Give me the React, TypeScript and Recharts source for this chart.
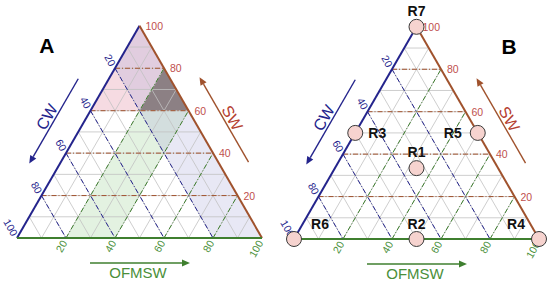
import React from 'react'
import { ScatterChart, Scatter, XAxis, YAxis } from 'recharts'

// ternary grid values
const gridSteps = [10, 20, 30, 40, 50, 60, 70, 80, 90]
const guideSteps = [20, 40, 60, 80]
const tickValues = [20, 40, 60, 80, 100]

// shaded zones of panel A, vertices as [CW, OFMSW, SW]
const swZone = [[40, 0, 60], [0, 40, 60], [0, 0, 100]]
const ofmswZone = [[80, 20, 0], [60, 40, 0], [0, 40, 60], [0, 20, 80]]
const cwZone = [[20, 80, 0], [0, 100, 0], [0, 0, 100], [20, 0, 80]]
const overlapZone = [[20, 20, 60], [0, 40, 60], [0, 20, 80]]

// mixing runs of panel B
const runNames = ['R1', 'R2', 'R3', 'R4', 'R5', 'R6', 'R7']
const runCW = [33.3, 50, 50, 0, 0, 100, 0]
const runOFMSW = [33.3, 50, 0, 100, 50, 0, 0]
const runSW = [33.4, 0, 50, 0, 50, 0, 100]
// label offsets (px) for each run
const runLabelDx = [0, 0, 22, -23, -25, 26, 0]
const runLabelDy = [-16, -15, 0, -15, 0, -15, -16]

const NAVY = '#24248c'
const BROWN = '#a0522d'
const RED = '#c0504d'
const GREEN = '#3f7f2f'
const GREEN_TXT = '#4a8f3a'
const FONT = '"Liberation Sans", Arial, Helvetica, sans-serif'

const H3 = Math.sqrt(3) / 2
const K = 2.45 // px per ternary unit
const W = 275
const HGT = 282

const plane = (cw: number, of: number, sw: number) => ({ x: of + sw / 2, y: sw * H3 })
const swLine = (v: number) => [plane(100 - v, 0, v), plane(0, 100 - v, v)]
const cwLine = (v: number) => [plane(v, 0, 100 - v), plane(v, 100 - v, 0)]
const ofLine = (v: number) => [plane(100 - v, v, 0), plane(0, v, 100 - v)]
const zonePts = (z: number[][]) => z.map(([c, o, s]) => plane(c, o, s))

const gridData = gridSteps.flatMap((v) => [...swLine(v), ...cwLine(v), ...ofLine(v)])
const swGuides = guideSteps.flatMap(swLine)
const cwGuides = guideSteps.flatMap(cwLine)
const ofGuides = guideSteps.flatMap(ofLine)

const cwTicks = tickValues.map((v) => ({ ...plane(v, 0, 100 - v), text: String(v) }))
const swTicks = tickValues.map((v) => ({ ...plane(0, 100 - v, v), text: String(v) }))
const ofTicks = tickValues.map((v) => ({ ...plane(100 - v, v, 0), text: String(v) }))

const runs = runNames.map((n, i) => ({
  ...plane(runCW[i], runOFMSW[i], runSW[i]),
  text: n,
  dx: runLabelDx[i],
  dy: runLabelDy[i],
}))

const hidden = () => <g />

const segLine = (stroke: string, width: number, dash?: string) => (p: any) => {
  const pts = p.points || []
  const out = []
  for (let i = 0; i + 1 < pts.length; i += 2) {
    out.push(
      <line
        key={i}
        x1={pts[i].x}
        y1={pts[i].y}
        x2={pts[i + 1].x}
        y2={pts[i + 1].y}
        stroke={stroke}
        strokeWidth={width}
        strokeDasharray={dash}
      />
    )
  }
  return <g>{out}</g>
}

const fillPoly = (fill: string, opacity: number) => (p: any) => (
  <polygon
    points={(p.points || []).map((q: any) => `${q.x},${q.y}`).join(' ')}
    fill={fill}
    fillOpacity={opacity}
    stroke="none"
  />
)

const arrowLine = (color: string) => (p: any) => {
  const [a, b] = p.points
  const ang = Math.atan2(b.y - a.y, b.x - a.x)
  const len = 8
  const hw = 3.5
  const bx = b.x - len * Math.cos(ang)
  const by = b.y - len * Math.sin(ang)
  const nx = -Math.sin(ang) * hw
  const ny = Math.cos(ang) * hw
  return (
    <g>
      <line x1={a.x} y1={a.y} x2={bx} y2={by} stroke={color} strokeWidth={1.4} />
      <polygon points={`${b.x},${b.y} ${bx + nx},${by + ny} ${bx - nx},${by - ny}`} fill={color} />
    </g>
  )
}

type TextOpts = {
  fill: string
  size: number
  weight?: string
  anchor?: string
  angle?: number
  dx?: number
  dy?: number
}

const textShape = (o: TextOpts) => (p: any) => {
  const { cx, cy, payload } = p
  const x = cx + (payload.dx ?? o.dx ?? 0)
  const y = cy + (payload.dy ?? o.dy ?? 0)
  return (
    <text
      x={x}
      y={y}
      fill={o.fill}
      fontSize={o.size}
      fontWeight={o.weight || 'normal'}
      fontFamily={FONT}
      textAnchor={o.anchor || 'middle'}
      dominantBaseline="central"
      transform={o.angle ? `rotate(${o.angle} ${x} ${y})` : undefined}
    >
      {payload.text}
    </text>
  )
}

const circleShape = (p: any) => (
  <circle cx={p.cx} cy={p.cy} r={7.5} fill="#f6d3cf" stroke="#3a3a3a" strokeWidth={1} />
)

type PanelProps = { left: number; bottom: number; letter: string; shaded?: boolean; showRuns?: boolean }

function Panel({ left, bottom, letter, shaded, showRuns }: PanelProps) {
  const xDomain = [-left / K, (W - left) / K]
  const yDomain = [-(HGT - bottom) / K, bottom / K]
  const common = { isAnimationActive: false, shape: hidden }

  return (
    <ScatterChart width={W} height={HGT} margin={{ top: 0, right: 0, bottom: 0, left: 0 }}>
      <XAxis type="number" dataKey="x" domain={xDomain} hide />
      <YAxis type="number" dataKey="y" domain={yDomain} hide />

      {shaded && <Scatter data={zonePts(swZone)} line={fillPoly('#e8a0b4', 0.38)} {...common} />}
      {shaded && <Scatter data={zonePts(ofmswZone)} line={fillPoly('#a8d8a2', 0.32)} {...common} />}
      {shaded && <Scatter data={zonePts(cwZone)} line={fillPoly('#a8a8d8', 0.26)} {...common} />}
      {shaded && <Scatter data={zonePts(overlapZone)} line={fillPoly('#7a6d71', 0.8)} {...common} />}

      <Scatter data={gridData} line={segLine('#c2c2c2', 0.8)} {...common} />
      <Scatter data={swGuides} line={segLine(BROWN, 1, '5 2 1 2')} {...common} />
      <Scatter data={cwGuides} line={segLine(NAVY, 1, '5 2 1 2')} {...common} />
      <Scatter data={ofGuides} line={segLine(GREEN, 1, '5 2 1 2')} {...common} />

      <Scatter data={ofLine(0)} line={segLine(NAVY, 2)} {...common} />
      <Scatter data={cwLine(0)} line={segLine(BROWN, 2)} {...common} />
      <Scatter data={swLine(0)} line={segLine(GREEN, 2)} {...common} />

      <Scatter data={[{ x: 25, y: 65 }, { x: 5, y: 30.36 }]} line={arrowLine(NAVY)} {...common} />
      <Scatter data={[{ x: 94.5, y: 31 }, { x: 74.5, y: 65.64 }]} line={arrowLine(BROWN)} {...common} />
      <Scatter data={[{ x: 29.8, y: -10.2 }, { x: 70.6, y: -10.2 }]} line={arrowLine(GREEN)} {...common} />

      <Scatter data={cwTicks} isAnimationActive={false}
        shape={textShape({ fill: NAVY, size: 10.5, anchor: 'end', angle: 60, dx: -1.8, dy: -3 })} />
      <Scatter data={swTicks} isAnimationActive={false}
        shape={textShape({ fill: RED, size: 10.5, anchor: 'start', dx: 6 })} />
      <Scatter data={ofTicks} isAnimationActive={false}
        shape={textShape({ fill: GREEN_TXT, size: 10.5, anchor: 'end', angle: -60, dx: -1.8, dy: 3 })} />

      <Scatter data={[{ x: 12.2, y: 49.4, text: 'CW' }]} isAnimationActive={false}
        shape={textShape({ fill: NAVY, size: 16, angle: -60 })} />
      <Scatter data={[{ x: 87.8, y: 49, text: 'SW' }]} isAnimationActive={false}
        shape={textShape({ fill: '#b5402f', size: 16, angle: 60 })} />
      <Scatter data={[{ x: 49.4, y: -13.9, text: 'OFMSW' }]} isAnimationActive={false}
        shape={textShape({ fill: GREEN_TXT, size: 15 })} />
      <Scatter data={[{ x: letter === 'A' ? 12.2 : 87.8, y: 78.6, text: letter }]} isAnimationActive={false}
        shape={textShape({ fill: '#000', size: 21, weight: 'bold' })} />

      {showRuns && <Scatter data={runs} isAnimationActive={false} shape={circleShape} />}
      {showRuns && (
        <Scatter data={runs} isAnimationActive={false}
          shape={textShape({ fill: '#111', size: 14, weight: 'bold' })} />
      )}
    </ScatterChart>
  )
}

export default function App() {
  return (
    <div style={{ position: 'absolute', left: 0, top: 0, width: 550, height: 282, display: 'flex', background: '#fff' }}>
      <Panel left={17} bottom={238} letter="A" shaded />
      <Panel left={19} bottom={239} letter="B" showRuns />
    </div>
  )
}
